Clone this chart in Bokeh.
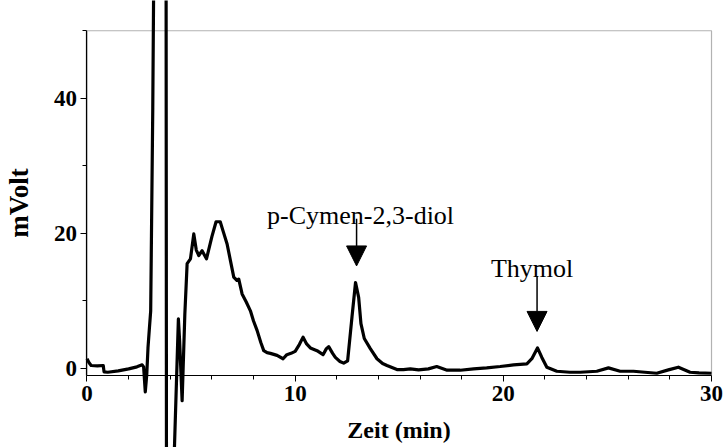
import numpy as np
from bokeh.plotting import figure
from bokeh.models import (Range1d, FixedTicker, BoxAnnotation, Arrow, NormalHead,
                          Label, LinearAxis)
from bokeh.embed import file_html
from bokeh.resources import INLINE

# ---- data ----
time_min = [0.0, 0.1, 0.2, 0.5, 0.78, 0.82, 1.0, 1.5, 2.0, 2.4, 2.65, 2.72, 2.8, 2.87,
            2.93, 3.0, 3.06, 3.16, 3.4, 3.78, 3.82, 4.07, 4.39, 4.45, 4.57, 4.7, 4.81,
            4.97, 5.13, 5.25, 5.37, 5.53, 5.74, 6.0, 6.2, 6.4, 6.55, 6.73, 6.9, 7.05,
            7.2, 7.29, 7.45, 7.65, 7.85, 8.0, 8.17, 8.35, 8.49, 8.65, 8.81, 9.13, 9.42,
            9.6, 9.8, 10.0, 10.2, 10.38, 10.55, 10.73, 11.05, 11.34, 11.5, 11.61, 11.8,
            11.93, 12.15, 12.33, 12.52, 12.73, 12.9, 13.05, 13.16, 13.32, 13.61, 13.93,
            14.2, 14.41, 14.89, 15.2, 15.53, 15.93, 16.4, 16.8, 17.3, 17.93, 18.57,
            19.2, 19.85, 20.49, 21.13, 21.37, 21.64, 21.85, 22.09, 22.57, 23.2, 23.69,
            24.49, 25.05, 25.61, 26.25, 26.8, 27.37, 27.93, 28.41, 28.97, 29.4, 30.0]
signal_mv = [1.4, 0.8, 0.4, 0.35, 0.4, -0.55, -0.6, -0.4, -0.1, 0.2, 0.5, 0.2, -3.5, -1.0,
             3.0, 6.0, 8.5, 38.6, 140.0, 140.0, -25.0, -25.0, 7.3, 4.0, -4.8, 8.0, 15.5,
             16.2, 19.9, 17.5, 16.7, 17.4, 16.2, 19.5, 21.7, 21.7, 20.2, 18.4, 15.8, 13.5,
             13.0, 13.2, 11.0, 9.8, 8.5, 7.0, 5.6, 3.8, 2.6, 2.3, 2.2, 1.9, 1.4,
             2.0, 2.2, 2.5, 3.5, 4.6, 3.6, 3.0, 2.6, 2.0, 2.9, 3.2, 2.2,
             1.6, 1.0, 0.75, 1.1, 7.6, 12.7, 10.5, 6.6, 4.4, 2.9, 1.4,
             0.7, 0.4, -0.2, -0.2, -0.1, -0.25, -0.1, 0.25, -0.3, -0.3, -0.1,
             0.05, 0.25, 0.5, 0.65, 1.4, 3.0, 1.6, 0.15, -0.45, -0.6, -0.6,
             -0.45, 0.05, -0.45, -0.45, -0.6, -0.75, -0.25, 0.15, -0.6, -0.7, -0.75]

x_major = [0, 10, 20, 30]
x_minor = [2, 4, 6, 8, 12, 14, 16, 18, 22, 24, 26, 28]
y_major = [0, 20, 40]
y_minor = [10, 30, 50]

peak_names = ["p-Cymen-2,3-diol", "Thymol"]
peak_times = [12.95, 21.62]

# annotation styling (screen/data offsets, not data)
ARROW_LEN = {"p-Cymen-2,3-diol": 7.0, "Thymol": 8.2}
LABEL_GAP = {"p-Cymen-2,3-diol": 0.45, "Thymol": 1.1}
LABEL_DX = {"p-Cymen-2,3-diol": 4, "Thymol": -5}

X_LIM = (0, 30)
Y_LIM = (-1.08, 50)

SERIF = "Liberation Serif"

# the frame covers the whole window so that the off-scale peaks can leave the box
p = figure(width=724, height=447, output_backend="svg", toolbar_location=None,
           x_range=Range1d(-4.155, 30.624), y_range=Range1d(-11.75, 54.48),
           x_axis_location=None, y_axis_location=None,
           min_border_left=0, min_border_right=0, min_border_top=0, min_border_bottom=0)
p.outline_line_color = None
p.xgrid.visible = False
p.ygrid.visible = False
p.background_fill_color = "white"
p.border_fill_color = "white"

# frame box
p.add_layout(BoxAnnotation(left=X_LIM[0], right=X_LIM[1], bottom=Y_LIM[0], top=Y_LIM[1],
                           fill_alpha=0, line_color="black", line_width=1.2))

# chromatogram
p.line(time_min, signal_mv, line_width=3.2, line_color="black", line_join="round")


def style_axis(ax):
    ax.axis_line_color = "black"
    ax.axis_line_width = 1.2
    ax.major_tick_in = 0
    ax.major_tick_out = 6
    ax.minor_tick_in = 0
    ax.minor_tick_out = 4
    ax.major_tick_line_color = "black"
    ax.minor_tick_line_color = "black"
    ax.major_label_text_font = SERIF
    ax.major_label_text_font_style = "bold"
    ax.major_label_text_font_size = "23px"
    ax.major_label_text_color = "black"
    ax.axis_label_text_font = SERIF
    ax.axis_label_text_font_style = "bold"
    ax.axis_label_text_font_size = "24px"
    ax.axis_label_text_color = "black"


xax = LinearAxis(ticker=FixedTicker(ticks=x_major, minor_ticks=x_minor),
                 axis_label="Zeit (min)", fixed_location=Y_LIM[0], bounds=X_LIM)
style_axis(xax)
xax.major_label_standoff = 5
xax.axis_label_standoff = 12
p.add_layout(xax, "below")

yax = LinearAxis(ticker=FixedTicker(ticks=y_major, minor_ticks=y_minor),
                 axis_label="mVolt", fixed_location=X_LIM[0], bounds=Y_LIM)
style_axis(yax)
yax.axis_label_text_font_size = "27px"
yax.major_label_standoff = 4
yax.axis_label_standoff = 17
p.add_layout(yax, "left")

# peak annotations
t_arr = np.array(time_min)
s_arr = np.array(signal_mv)
for name, tp in zip(peak_names, peak_times):
    near = np.abs(t_arr - tp) < 0.3
    tip = float(s_arr[near].max()) + 2.45
    tail = tip + ARROW_LEN[name]
    p.add_layout(Arrow(end=NormalHead(size=20, fill_color="black", line_color="black"),
                       x_start=tp, y_start=tail, x_end=tp, y_end=tip,
                       line_width=1.5, line_color="black"))
    p.add_layout(Label(x=tp, y=tail + LABEL_GAP[name], x_offset=LABEL_DX[name],
                       text=name, text_align="center",
                       text_baseline="alphabetic", text_font=SERIF,
                       text_font_size="26px", text_color="black"))

open("out.html", "w").write(file_html(p, INLINE))
